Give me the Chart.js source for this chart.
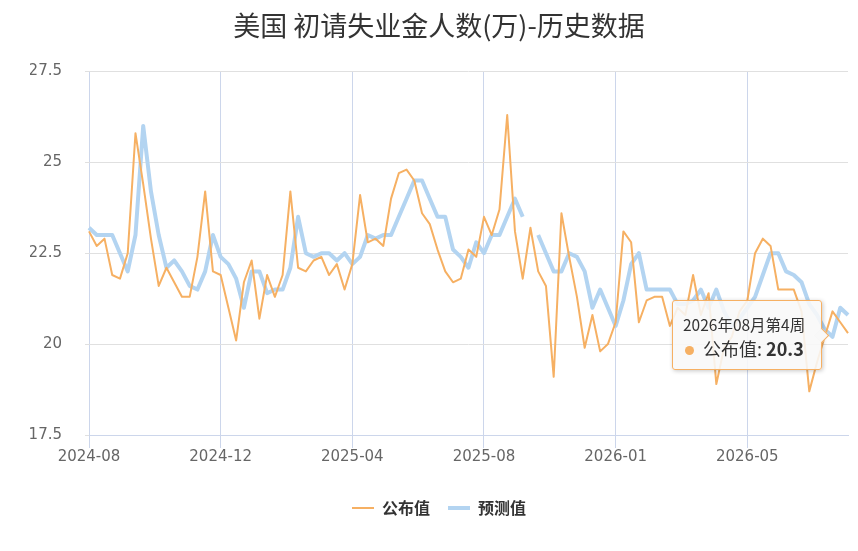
<!DOCTYPE html>
<html><head><meta charset="utf-8">
<script src="https://cdn.jsdelivr.net/npm/chart.js@4.4.1/dist/chart.umd.min.js"></script>
<style>
html,body{margin:0;padding:0;background:#fff;}
#wrap{position:relative;width:858px;height:551px;overflow:hidden;}
#tt{position:absolute;box-sizing:border-box;width:150px;height:70px;background:rgba(248,248,248,0.88);border:1px solid #f6b063;border-radius:3px;box-shadow:1px 1px 4px rgba(0,0,0,0.22);font-family:"Noto Sans CJK SC",sans-serif;color:#333;white-space:nowrap;padding:13px 0 0 10px;pointer-events:none;opacity:0;}
#tt .t{font-size:15.5px;line-height:20px;}
#tt .b{font-size:18px;line-height:24px;margin-top:2px;}
#tt .dot{display:inline-block;width:9px;height:9px;border-radius:50%;margin:0 9px 2px 2px;vertical-align:middle;}
#tt .caret{position:absolute;right:-6px;top:29px;width:10px;height:10px;background:#f8f8f8;border-top:1px solid #f6b063;border-right:1px solid #f6b063;transform:rotate(45deg);}
</style></head><body>
<div id="wrap"><canvas id="c" width="858" height="551"></canvas><div id="tt"></div></div>
<script>
// weeks per month (category axis = weekly releases)
const monthWeeks = [
  ['2024-08',5],['2024-09',4],['2024-10',4],['2024-11',4],
  ['2024-12',4],['2025-01',5],['2025-02',4],['2025-03',4],
  ['2025-04',4],['2025-05',5],['2025-06',4],['2025-07',4],
  ['2025-08',4],['2025-09',4],['2025-10',3],['2025-11',3],['2025-12',3],
  ['2026-01',4],['2026-02',4],['2026-03',4],['2026-04',5],
  ['2026-05',4],['2026-06',3],['2026-07',3],['2026-08',4]
];
const xTickLabels = ['2024-08','2024-12','2025-04','2025-08','2026-01','2026-05'];
const yTickValues = [17.5, 20, 22.5, 25, 27.5];

const releasedValues = [
  23.1,22.7,22.9,21.9,21.8,22.5,25.8,24.4,22.9,21.6,
  22.1,21.7,21.3,21.3,22.4,24.2,22.0,21.9,21.0,20.1,
  21.7,22.3,20.7,21.9,21.3,21.9,24.2,22.1,22.0,22.3,
  22.4,21.9,22.2,21.5,22.2,24.1,22.8,22.9,22.7,24.0,
  24.7,24.8,24.5,23.6,23.3,22.6,22.0,21.7,21.8,22.6,
  22.4,23.5,23.0,23.7,26.3,23.1,21.8,23.2,22.0,21.6,
  19.1,23.6,22.4,21.3,19.9,20.8,19.8,20.0,20.6,23.1,
  22.8,20.6,21.2,21.3,21.3,20.5,21.0,20.8,21.9,20.8,
  21.4,18.9,19.9,20.2,20.9,21.2,22.5,22.9,22.7,21.5,
  21.5,21.5,20.9,18.7,19.5,20.2,20.9,20.6,20.3
];
const forecastValues = [
  23.2,23.0,23.0,23.0,22.5,22.0,23.0,26.0,24.2,23.0,
  22.1,22.3,22.0,21.6,21.5,22.0,23.0,22.4,22.2,21.8,
  21.0,22.0,22.0,21.4,21.5,21.5,22.1,23.5,22.5,22.4,
  22.5,22.5,22.3,22.5,22.2,22.4,23.0,22.9,23.0,23.0,
  23.5,24.0,24.5,24.5,24.0,23.5,23.5,22.6,22.4,22.1,
  22.8,22.5,23.0,23.0,23.5,24.0,23.5,null,23.0,22.5,
  22.0,22.0,22.5,22.4,22.0,21.0,21.5,21.0,20.5,21.2,
  22.2,22.5,21.5,21.5,21.5,21.5,21.1,21.1,21.2,21.5,
  21.0,21.5,20.9,20.5,20.7,21.0,21.3,21.9,22.5,22.5,
  22.0,21.9,21.7,21.1,20.8,20.4,20.2,21.0,20.8
];

const categories = [], monthOf = [], weekOf = [];
monthWeeks.forEach(([ym, n]) => {
  const [y, m] = ym.split('-');
  for (let k = 1; k <= n; k++) {
    categories.push(y + '年' + m + '月第' + k + '周');
    monthOf.push(ym); weekOf.push(k);
  }
});

const ORANGE = '#f6b063', BLUE = '#b3d4f1';
const axisFont = {family: '"DejaVu Sans", sans-serif', size: 15};

function externalTooltip(context) {
  const {chart, tooltip} = context;
  const el = document.getElementById('tt');
  if (tooltip.opacity === 0 || !tooltip.dataPoints || !tooltip.dataPoints.length) { el.style.opacity = 0; return; }
  const dp = tooltip.dataPoints[0];
  const color = dp.dataset.borderColor;
  el.innerHTML = '<div class="t">' + tooltip.title[0] + '</div>' +
    '<div class="b"><span class="dot" style="background:' + color + '"></span>' + dp.dataset.label + ': <b>' + dp.formattedValue + '</b></div>' +
    '<div class="caret"></div>';
  el.style.borderColor = color;
  el.style.left = (chart.canvas.offsetLeft + tooltip.caretX - 26 - 150) + 'px';
  el.style.top = (chart.canvas.offsetTop + tooltip.caretY - 33) + 'px';
  el.style.opacity = 1;
}

const chart = new Chart(document.getElementById('c'), {
  type: 'line',
  data: {
    labels: categories,
    datasets: [
      {label: '公布值', data: releasedValues, borderColor: ORANGE, backgroundColor: ORANGE, borderWidth: 2,
       pointRadius: 0, pointHoverRadius: 0, tension: 0, fill: false, borderJoinStyle: 'round'},
      {label: '预测值', data: forecastValues, borderColor: BLUE, backgroundColor: BLUE, borderWidth: 4,
       pointRadius: 0, pointHoverRadius: 0, tension: 0, fill: false, borderJoinStyle: 'round'}
    ]
  },
  options: {
    responsive: false,
    animation: false,
    layout: {padding: {left: 30, right: 10, top: 0, bottom: 25}},
    interaction: {mode: 'nearest', intersect: false},
    scales: {
      x: {
        type: 'category',
        afterBuildTicks: s => { s.ticks = s.ticks.filter(t => weekOf[t.value] === 1 && xTickLabels.includes(monthOf[t.value])); },
        afterFit: s => { s.height = 47; },
        grid: {color: '#ccd6eb', lineWidth: 1, tickLength: 13, drawTicks: true},
        border: {display: true, color: '#ccd6eb'},
        ticks: {autoSkip: false, maxRotation: 0, color: '#666', font: axisFont, padding: 0,
                callback: v => monthOf[v]}
      },
      y: {
        min: yTickValues[0], max: yTickValues[yTickValues.length - 1],
        afterBuildTicks: s => { s.ticks = yTickValues.map(v => ({value: v})); },
        afterFit: s => { s.width = 59; },
        grid: {color: '#e0e0e0', lineWidth: 1, tickLength: 4, drawTicks: true},
        border: {display: false},
        ticks: {color: '#666', font: axisFont, padding: 23, callback: v => String(v)}
      }
    },
    plugins: {
      title: {display: true, text: '美国 初请失业金人数(万)-历史数据', color: '#333',
              font: {family: '"Noto Sans CJK SC", sans-serif', size: 27, weight: 'normal'},
              padding: {top: 10, bottom: 29}},
      legend: {position: 'bottom',
               labels: {usePointStyle: true, pointStyle: 'line', pointStyleWidth: 22, boxHeight: 16,
                        color: '#333', padding: 18,
                        font: {family: '"Noto Sans CJK SC", sans-serif', size: 16, weight: 'bold'}}},
      tooltip: {enabled: false, external: externalTooltip, animation: false}
    }
  }
});

const last = releasedValues.length - 1;
const pt = chart.getDatasetMeta(0).data[last];
chart.tooltip.setActiveElements([{datasetIndex: 0, index: last}], {x: pt.x, y: pt.y});
</script>
</body></html>
